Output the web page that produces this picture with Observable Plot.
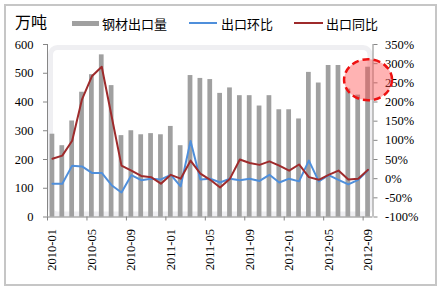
<!DOCTYPE html>
<html><head><meta charset="utf-8">
<script src="https://cdn.jsdelivr.net/npm/d3@7"></script>
<script src="https://cdn.jsdelivr.net/npm/@observablehq/plot@0.6"></script>
<style>
body{margin:0;background:#fff;}
#wrap{position:relative;width:441px;height:290px;overflow:hidden;background:#fff;}
#border{position:absolute;left:4px;top:4px;width:433px;height:282px;border:2px solid #c6c6c6;box-sizing:border-box;pointer-events:none;}
#legend{position:relative;height:36px;font-family:"Noto Sans CJK SC","Noto Sans",sans-serif;font-size:13px;color:#000;}
#legend span{position:absolute;white-space:nowrap;line-height:1;}
.sw{position:absolute;}
#chart svg{display:block;}
</style>
</head><body>
<div id="wrap">
  <div id="legend">
    <span style="left:15px;top:13px;font-size:16px;">万吨</span>
    <div class="sw" style="left:72px;top:21px;width:27px;height:5px;background:#a0a0a0;"></div>
    <span style="left:102px;top:17px;">钢材出口量</span>
    <div class="sw" style="left:189px;top:22px;width:28px;height:2px;background:#4f8fdb;"></div>
    <span style="left:221px;top:17px;">出口环比</span>
    <div class="sw" style="left:294px;top:22px;width:29px;height:2px;background:#9e2a2b;"></div>
    <span style="left:326px;top:17px;">出口同比</span>
  </div>
  <div id="chart"></div>
  <div id="border"></div>
</div>
<script>
const months = ["2010-01","2010-02","2010-03","2010-04","2010-05","2010-06","2010-07","2010-08","2010-09","2010-10","2010-11","2010-12",
  "2011-01","2011-02","2011-03","2011-04","2011-05","2011-06","2011-07","2011-08","2011-09","2011-10","2011-11","2011-12",
  "2012-01","2012-02","2012-03","2012-04","2012-05","2012-06","2012-07","2012-08","2012-09"];
const exportVol = [288,248,334,434,495,564,457,283,300,286,290,286,315,248,492,482,478,430,449,422,422,386,422,373,373,341,503,466,527,527,445,424,521];
const momPct = [-13,-13,34,32,15,15,-17,-36,9,-4,0,-2,10,-20,98,-2,0,-10,0,-4,0,-6,10,-10,0,-7,47,-7,9,-3,-15,-3,22];
const yoyPct = [52,60,99,207,267,292,163,34,21,7,4,-13,10,0,47,13,-3,-23,0,50,41,36,45,34,21,37,4,-3,10,21,-2,0,23];
const leftTicks = [0,100,200,300,400,500,600];
const rightTicks = [-100,-50,0,50,100,150,200,250,300,350];
const labelIdx = [0,4,8,12,16,20,24,28,32];
const highlight = [{i:32, pct:258}];

const toLeft = p => (p + 100) * 600 / 450;
const data = months.map((m, i) => ({i, m, v: exportVol[i], mom: momPct[i], yoy: yoyPct[i]}));

const ellipse = {
  draw(ctx, size) {
    const ry = Math.sqrt(size / Math.PI), rx = ry * 1.17, k = 0.5523;
    ctx.moveTo(rx, 0);
    ctx.bezierCurveTo(rx, k*ry, k*rx, ry, 0, ry);
    ctx.bezierCurveTo(-k*rx, ry, -rx, k*ry, -rx, 0);
    ctx.bezierCurveTo(-rx, -k*ry, -k*rx, -ry, 0, -ry);
    ctx.bezierCurveTo(k*rx, -ry, rx, -k*ry, rx, 0);
    ctx.closePath();
  }
};

const axisGray = "#868686";
const plot = Plot.plot({
  width: 441, height: 254,
  marginTop: 8, marginBottom: 73.5, marginLeft: 47, marginRight: 68.5,
  x: {type: "linear", domain: [-0.5, 32.5]},
  y: {domain: [0, 600]},
  style: {fontFamily: "'Liberation Serif', 'Times New Roman', serif", fontSize: "12.5px", color: "#000", background: "transparent"},
  marks: [
    Plot.frame({stroke: "#efeff2", strokeWidth: 5, inset: 3, rx: 7}),
    Plot.rectY(data, {x1: d => d.i - 0.24, x2: d => d.i + 0.24, y: "v", fill: "#a0a0a0"}),
    Plot.ruleY([0], {stroke: axisGray}),
    Plot.ruleX([-0.5, 32.5], {stroke: axisGray}),
    Plot.axisY({anchor: "left", ticks: leftTicks, tickSize: 4, tickPadding: 10, stroke: axisGray, fill: "#000", label: null}),
    Plot.axisY({anchor: "right", ticks: rightTicks.map(toLeft), tickFormat: d => Math.round(d * 0.75 - 100) + "%", tickSize: 4, tickPadding: 8, stroke: axisGray, fill: "#000", label: null}),
    Plot.axisX({ticks: labelIdx, tickFormat: i => months[i], tickRotate: -90, tickSize: 0, tickPadding: 12, fill: "#000", label: null}),
    Plot.axisX({ticks: labelIdx.map(i => i - 0.5), tickFormat: () => "", tickSize: 4, stroke: axisGray, label: null}),
    Plot.lineY(data, {x: "i", y: d => toLeft(d.mom), stroke: "#4f8fdb", strokeWidth: 2}),
    Plot.lineY(data, {x: "i", y: d => toLeft(d.yoy), stroke: "#9e2a2b", strokeWidth: 2}),
    Plot.dot(highlight, {x: "i", y: d => toLeft(d.pct), r: 20.5, symbol: ellipse, fill: "#ff4a4a", fillOpacity: 0.42, stroke: "#ee1111", strokeWidth: 2.5, strokeDasharray: "7,4"})
  ]
});
document.getElementById("chart").appendChild(plot);
</script>
</body></html>
